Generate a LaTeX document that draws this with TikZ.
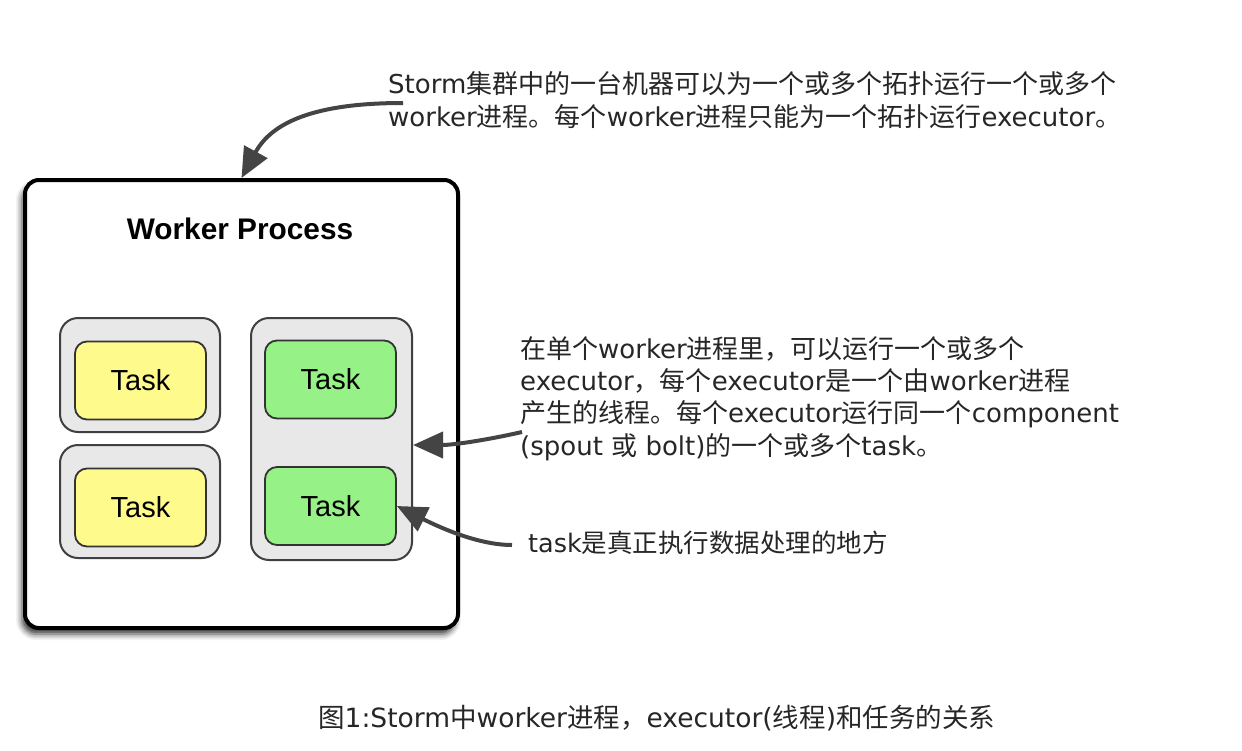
\documentclass[tikz,border=0pt]{standalone}
\usepackage{fontspec}
\setmainfont{DejaVu Sans}
\newfontfamily\zhfont{Noto Sans CJK SC}
\newfontfamily\titlefont{Liberation Sans}
\usetikzlibrary{arrows.meta,shadows.blur}

\newcommand{\zh}[1]{{\zhfont #1}}

\definecolor{taskyellow}{RGB}{255,250,140}
\definecolor{taskgreen}{RGB}{150,242,135}
\definecolor{execgray}{RGB}{232,232,232}
\definecolor{arrowgray}{RGB}{68,68,68}

\tikzset{
  executor/.style={draw=black!75, line width=2pt, fill=execgray, rounded corners=18pt, inner sep=0pt},
  task/.style={draw=black!80, line width=1.8pt, rounded corners=12pt, minimum width=131pt, minimum height=78pt, inner sep=0pt, font=\titlefont\fontsize{29}{29}\selectfont},
  note/.style={align=left, inner sep=0pt, font=\fontsize{26}{32.3}\selectfont, text=black!85},
  pointer/.style={draw=arrowgray, line width=4pt, -{Triangle[length=30pt,width=26pt]}},
}

\begin{document}
\begin{tikzpicture}[x=1pt,y=-1pt]
\useasboundingbox (0,0) rectangle (1242,750);

% Worker-Prozess
\node[draw, line width=4pt, rounded corners=14pt, fill=white, minimum width=433pt, minimum height=448pt,
  blur shadow={shadow xshift=-3pt, shadow yshift=-6pt, shadow blur radius=6pt, shadow opacity=80}] (worker) at (241.5,404) {};
\node[font=\titlefont\bfseries\fontsize{29.8}{30}\selectfont] (title) at (240,229) {Worker Process};

% Executoren
\node[executor, minimum width=160pt, minimum height=114pt] (exec1) at (140,375) {};
\node[executor, minimum width=160pt, minimum height=113pt] (exec2) at (140,501.5) {};
\node[executor, minimum width=161pt, minimum height=242pt] (exec3) at (331.5,439) {};

% Tasks
\node[task, fill=taskyellow] (task1) at (140.5,380.5) {Task};
\node[task, fill=taskyellow] (task2) at (140.5,507.5) {Task};
\node[task, fill=taskgreen] (task3) at (330.5,379.5) {Task};
\node[task, fill=taskgreen] (task4) at (330.5,506) {Task};

% Erklaerungen
\node[note, anchor=west] (note1) at (388,100) {Storm\zh{集群中的一台机器可以为一个或多个拓扑运行一个或多个}\\ worker\zh{进程。每个}worker\zh{进程只能为一个拓扑运行}executor\zh{。}};
\node[note, anchor=west] (note2) at (520,398.5) {\zh{在单个}worker\zh{进程里，可以运行一个或多个}\\ executor\zh{，每个}executor\zh{是一个由}worker\zh{进程}\\ \zh{产生的线程。每个}executor\zh{运行同一个}component\\ (spout \zh{或} bolt)\zh{的一个或多个}task\zh{。}};
\node[note, anchor=west, font=\fontsize{25.5}{32}\selectfont] (note3) at (528,543) {task\zh{是真正执行数据处理的地方}};
\node[note, anchor=west, font=\fontsize{26.5}{32}\selectfont] (caption) at (318,718) {\zh{图}1:Storm\zh{中}worker\zh{进程，}executor(\zh{线程})\zh{和任务的关系}};

% Pfeile
\draw[pointer] ([xshift=15pt,yshift=-3pt]note1.west) .. controls +(-90,0) and +(30,-55) .. (worker.north);
\draw[pointer] ([xshift=2pt,yshift=-33.5pt]note2.west) .. controls +(-35,8) and +(40,0) .. ([yshift=-6pt]exec3.east);
\draw[pointer] ([xshift=-16pt,yshift=-2pt]note3.west) .. controls +(-35,0) and +(40,20) .. (task4.east);

\end{tikzpicture}
\end{document}
